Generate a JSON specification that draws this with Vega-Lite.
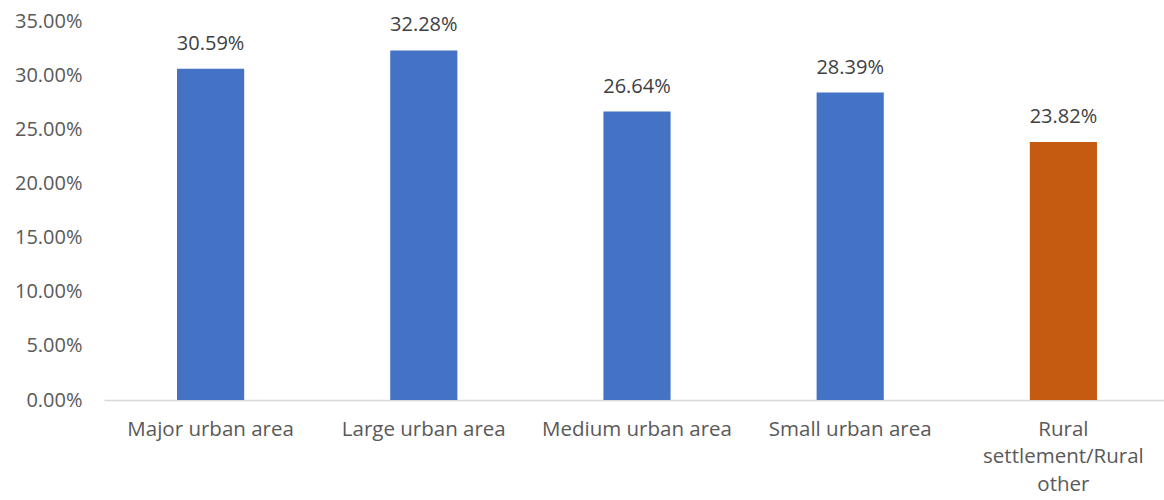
{
  "$schema": "https://vega.github.io/schema/vega-lite/v6.json",
  "autosize": "none",
  "width": 1066,
  "height": 379,
  "padding": {"left": 104, "top": 21, "right": 0, "bottom": 100},
  "background": "white",
  "config": {"view": {"stroke": null}, "font": "Open Sans"},
  "data": {"values": [
    {"area": "Major urban area", "share": 0.3059, "type": "urban"},
    {"area": "Large urban area", "share": 0.3228, "type": "urban"},
    {"area": "Medium urban area", "share": 0.2664, "type": "urban"},
    {"area": "Small urban area", "share": 0.2839, "type": "urban"},
    {"area": "Rural settlement/Rural other", "share": 0.2382, "type": "rural"}
  ]},
  "encoding": {
    "x": {"field": "area", "type": "nominal", "sort": null,
      "scale": {"paddingInner": 0.685, "paddingOuter": 0.3425},
      "axis": {"title": null, "labelAngle": 0, "labelFontSize": 20.5, "labelColor": "#595959",
        "labelPadding": 19, "ticks": false, "domainColor": "#d9d9d9", "domainWidth": 1.5,
        "labelLineHeight": 27.5, "labelLimit": 400, "labelOverlap": false,
        "labelExpr": "datum.value == 'Rural settlement/Rural other' ? ['Rural', 'settlement/Rural', 'other'] : datum.value"}},
    "y": {"field": "share", "type": "quantitative",
      "scale": {"domain": [0, 0.35], "nice": false},
      "axis": {"title": null, "format": ".2%", "values": [0, 0.05, 0.1, 0.15, 0.2, 0.25, 0.3, 0.35],
        "grid": false, "domain": false, "ticks": false, "labelFontSize": 20, "labelColor": "#595959", "labelPadding": 22}}
  },
  "layer": [
    {"mark": {"type": "bar"},
      "encoding": {"color": {"field": "type", "type": "nominal",
        "scale": {"domain": ["urban", "rural"], "range": ["#4472C4", "#C55A11"]}, "legend": null}}},
    {"mark": {"type": "text", "dy": -19, "baseline": "alphabetic", "fontSize": 20, "color": "#404040"},
      "encoding": {"text": {"field": "share", "type": "quantitative", "format": ".2%"}}}
  ]
}
